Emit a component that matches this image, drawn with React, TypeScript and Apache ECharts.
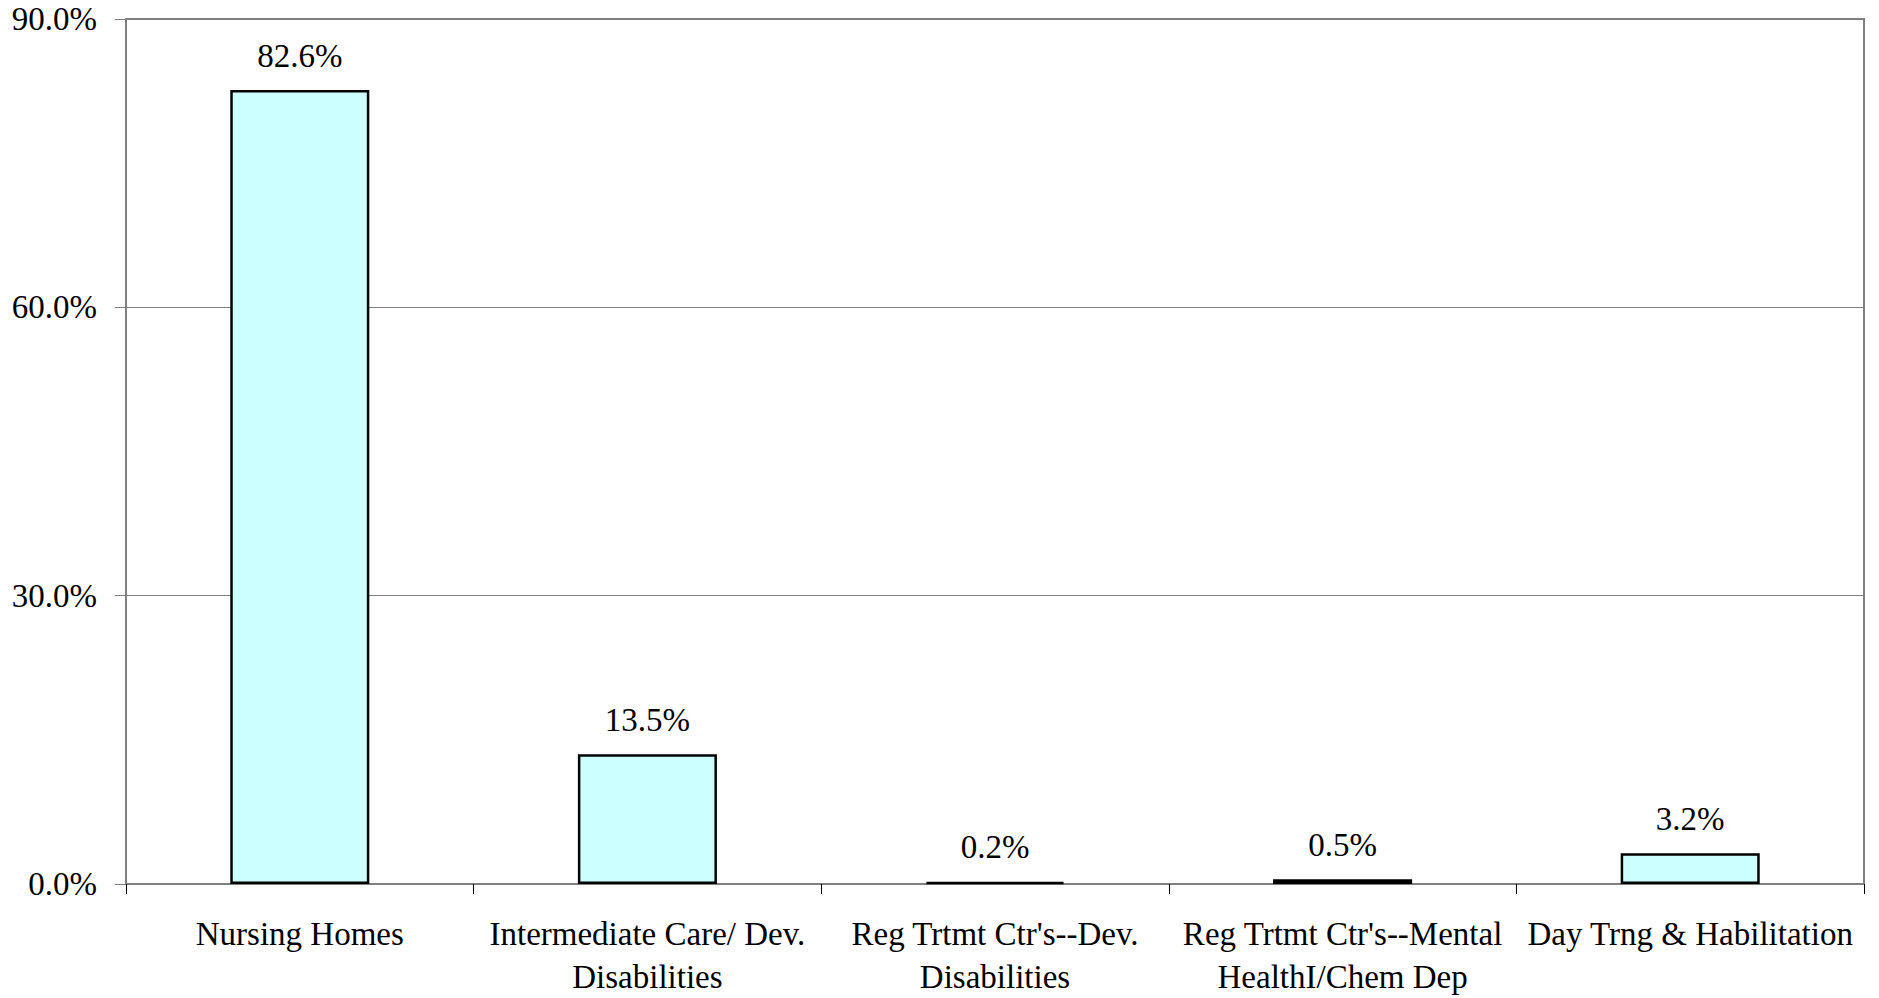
import React, { useEffect, useRef } from "react";
import * as echarts from "echarts";

const categories = [
  "Nursing Homes",
  "Intermediate Care/ Dev.\nDisabilities",
  "Reg Trtmt Ctr's--Dev.\nDisabilities",
  "Reg Trtmt Ctr's--Mental\nHealthI/Chem Dep",
  "Day Trng & Habilitation",
];
const values = [82.6, 13.5, 0.2, 0.5, 3.2];
const yMin = 0;
const yMax = 90;
const yInterval = 30;

const FONT = "'Liberation Serif', 'Times New Roman', serif";

export default function App() {
  const ref = useRef<HTMLDivElement>(null);
  useEffect(() => {
    if (!ref.current) return;
    const chart = echarts.init(ref.current, undefined, { renderer: "svg" });
    chart.setOption({
      animation: false,
      backgroundColor: "#ffffff",
      textStyle: { fontFamily: FONT },
      grid: {
        left: 126,
        right: 15,
        top: 19,
        bottom: 112,
        show: true,
        borderColor: "#808080",
        borderWidth: 2,
        backgroundColor: "transparent",
      },
      xAxis: {
        type: "category",
        data: categories,
        axisLine: { show: true, lineStyle: { color: "#808080", width: 1 } },
        axisTick: { show: true, alignWithLabel: false, length: 10, lineStyle: { color: "#000000", width: 1 } },
        axisLabel: {
          color: "#000000",
          fontFamily: FONT,
          fontSize: 33,
          lineHeight: 43,
          margin: 28,
          interval: 0,
        },
      },
      yAxis: {
        type: "value",
        min: yMin,
        max: yMax,
        interval: yInterval,
        axisLine: { show: true, lineStyle: { color: "#808080", width: 1 } },
        axisTick: { show: true, length: 11, lineStyle: { color: "#808080", width: 1 } },
        splitLine: { show: true, lineStyle: { color: "#808080", width: 1 } },
        axisLabel: {
          color: "#000000",
          fontFamily: FONT,
          fontSize: 33,
          margin: 29,
          formatter: (v: number) => v.toFixed(1) + "%",
        },
      },
      series: [
        {
          type: "bar",
          data: values,
          barWidth: "40%",
          itemStyle: { color: "#CCFFFF", borderColor: "#000000", borderWidth: 2.5 },
          label: {
            show: true,
            position: "top",
            distance: 18,
            color: "#000000",
            fontFamily: FONT,
            fontSize: 33,
            formatter: (p: any) => p.value.toFixed(1) + "%",
          },
        },
      ],
    });
    return () => chart.dispose();
  }, []);
  return (
    <div
      ref={ref}
      style={{ position: "fixed", left: 0, top: 0, width: 1879, height: 998 }}
    />
  );
}
